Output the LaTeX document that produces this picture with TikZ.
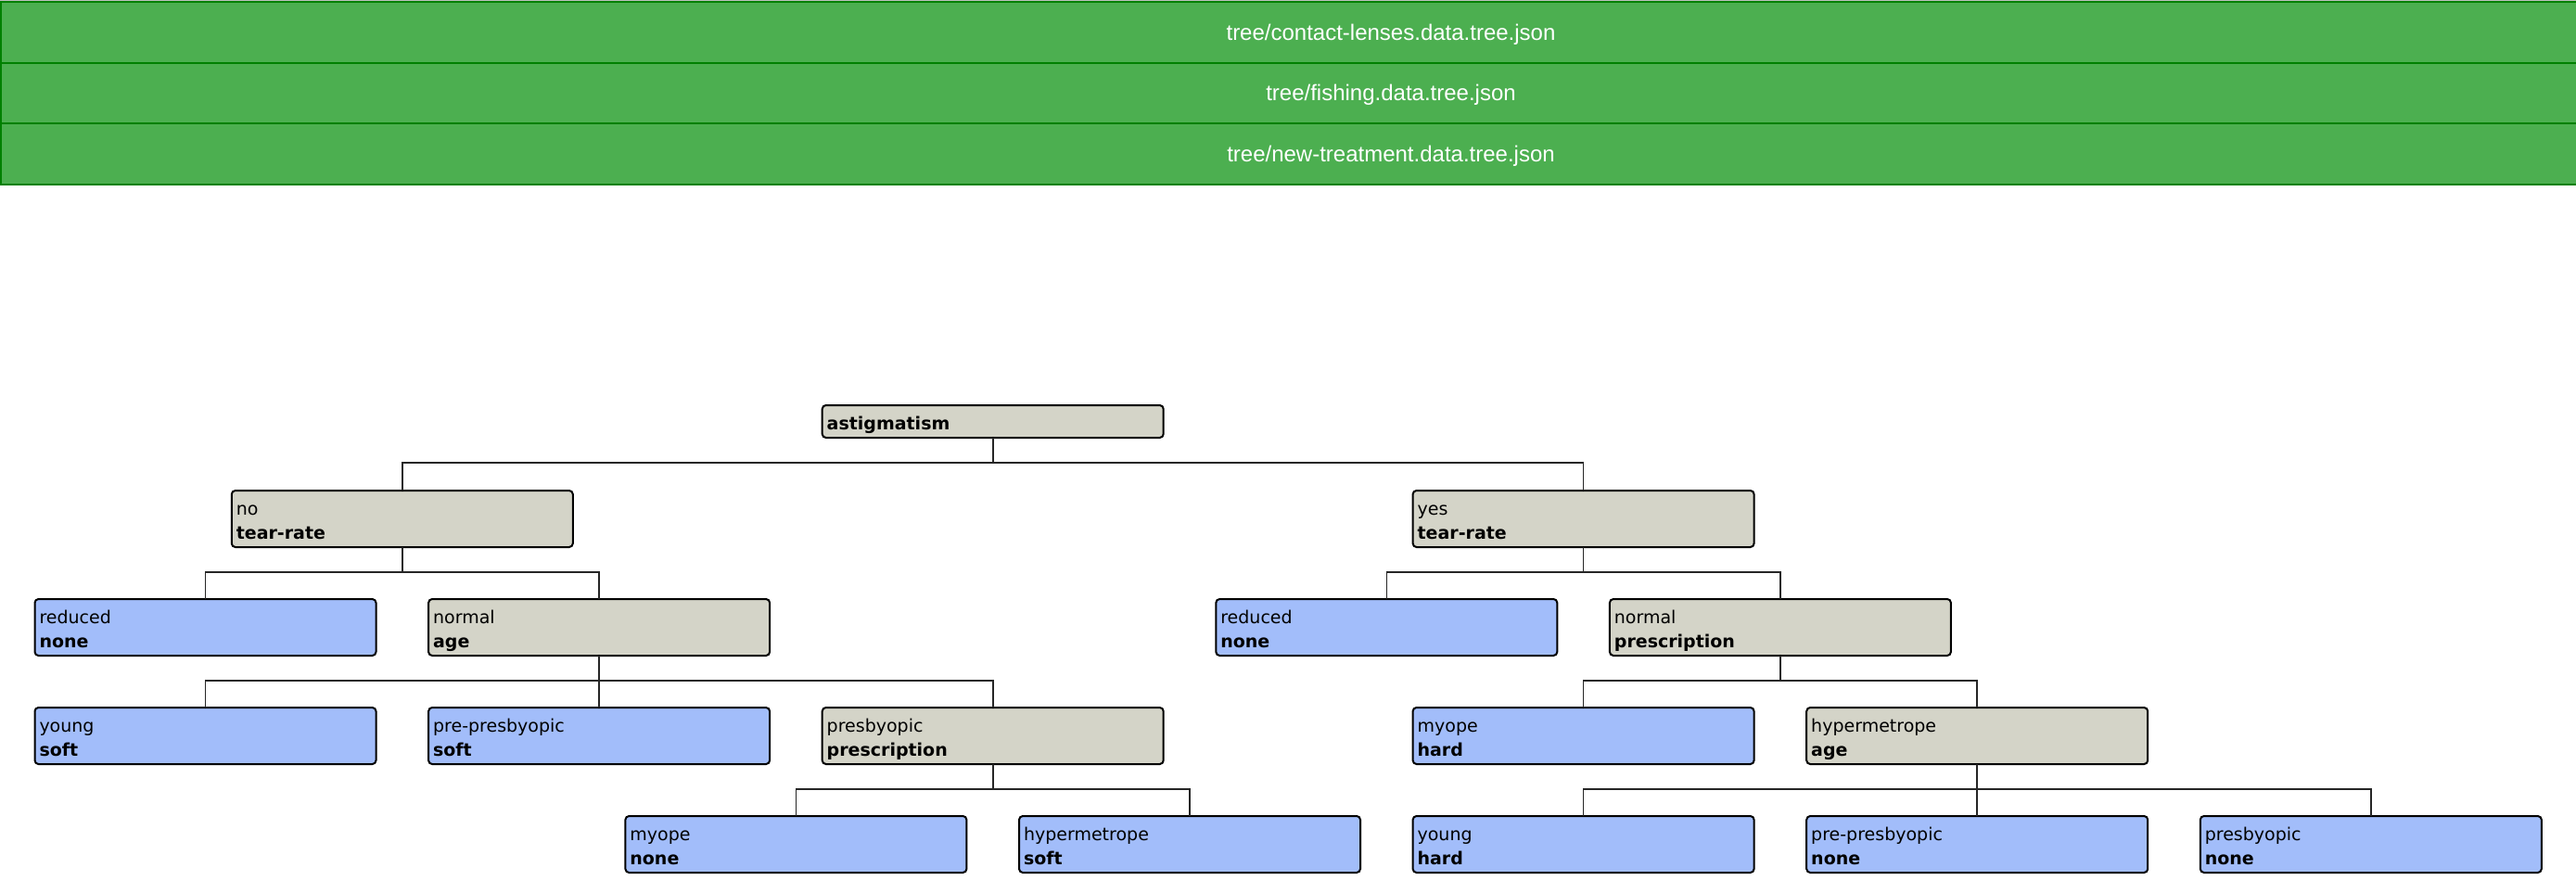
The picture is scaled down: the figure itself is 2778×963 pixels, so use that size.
\documentclass[tikz,border=0pt]{standalone}
\usepackage{fontspec}
\newfontfamily\treefont{DejaVu Sans}
\newfontfamily\bandfont{Liberation Sans}
\usetikzlibrary{positioning}
\definecolor{bandgreen}{HTML}{4CAF50}
\definecolor{bandedge}{HTML}{008000}
\definecolor{splitfill}{HTML}{D4D4C8}
\definecolor{leaffill}{HTML}{A2BDFA}
\newcommand{\twoline}[2]{\rule{0pt}{26pt}#1\\\textbf{#2}\rule[-9pt]{0pt}{9pt}}

\begin{document}
\begin{tikzpicture}[x=1pt, y=-1pt,
  tnode/.style={draw=black, line width=2pt, rounded corners=4pt, minimum width=368pt,
    minimum height=61pt, text width=358pt, align=left, inner xsep=5pt, inner ysep=0pt,
    outer sep=0pt, anchor=north, font=\treefont\fontsize{19pt}{26pt}\selectfont},
  split/.style={tnode, fill=splitfill},
  leaf/.style={tnode, fill=leaffill},
  link/.style={draw=black!85, line width=1.6pt},
  band/.style={draw=bandedge, line width=2pt, fill=bandgreen, text=white, outer sep=0pt,
    inner sep=0pt, minimum width=2998pt, minimum height=65.7pt, text height=17pt,
    text depth=0.4pt, font=\bandfont\fontsize{24pt}{28pt}\selectfont}]
  \useasboundingbox (0,0) rectangle (2778,963);
  \clip (0,0) rectangle (2778,963);
  % file list
  \fill[black!25] (0,0) rectangle (2778,1.2);
  \node[band, anchor=north west] (fileA) at (1,2) {tree/contact-lenses.data.tree.json};
  \node[band, below=0pt of fileA] (fileB) {tree/fishing.data.tree.json};
  \node[band, below=0pt of fileB] (fileC) {tree/new-treatment.data.tree.json};
  % tree
  \node[split, minimum height=35pt] (astig) at (1070.7,437) {\rule{0pt}{26pt}\textbf{astigmatism}\rule[-9pt]{0pt}{9pt}};
  \node[split] (tearNo) at (433.8,529) {\twoline{no}{tear-rate}};
  \node[split] (tearYes) at (1707.6,529) {\twoline{yes}{tear-rate}};
  \node[leaf] (noReduced) at (221.5,646) {\twoline{reduced}{none}};
  \node[split] (noNormal) at (646.1,646) {\twoline{normal}{age}};
  \node[leaf] (yesReduced) at (1495.3,646) {\twoline{reduced}{none}};
  \node[split] (yesNormal) at (1919.9,646) {\twoline{normal}{prescription}};
  \node[leaf] (ageYoung) at (221.5,763) {\twoline{young}{soft}};
  \node[leaf] (agePre) at (646.1,763) {\twoline{pre-presbyopic}{soft}};
  \node[split] (agePresb) at (1070.7,763) {\twoline{presbyopic}{prescription}};
  \node[leaf] (rxMyope) at (1707.6,763) {\twoline{myope}{hard}};
  \node[split] (rxHyper) at (2132.2,763) {\twoline{hypermetrope}{age}};
  \node[leaf] (presbMyope) at (858.4,880) {\twoline{myope}{none}};
  \node[leaf] (presbHyper) at (1283,880) {\twoline{hypermetrope}{soft}};
  \node[leaf] (hypYoung) at (1707.6,880) {\twoline{young}{hard}};
  \node[leaf] (hypPre) at (2132.2,880) {\twoline{pre-presbyopic}{none}};
  \node[leaf] (hypPresb) at (2556.8,880) {\twoline{presbyopic}{none}};
  % connectors
  \foreach \p/\c in {astig/tearNo, astig/tearYes, tearNo/noReduced, tearNo/noNormal,
    tearYes/yesReduced, tearYes/yesNormal, noNormal/ageYoung, noNormal/agePre,
    noNormal/agePresb, yesNormal/rxMyope, yesNormal/rxHyper, agePresb/presbMyope,
    agePresb/presbHyper, rxHyper/hypYoung, rxHyper/hypPre, rxHyper/hypPresb}
    \draw[link] (\p.south) -- ++(0,27) -| (\c.north);
\end{tikzpicture}
\end{document}
